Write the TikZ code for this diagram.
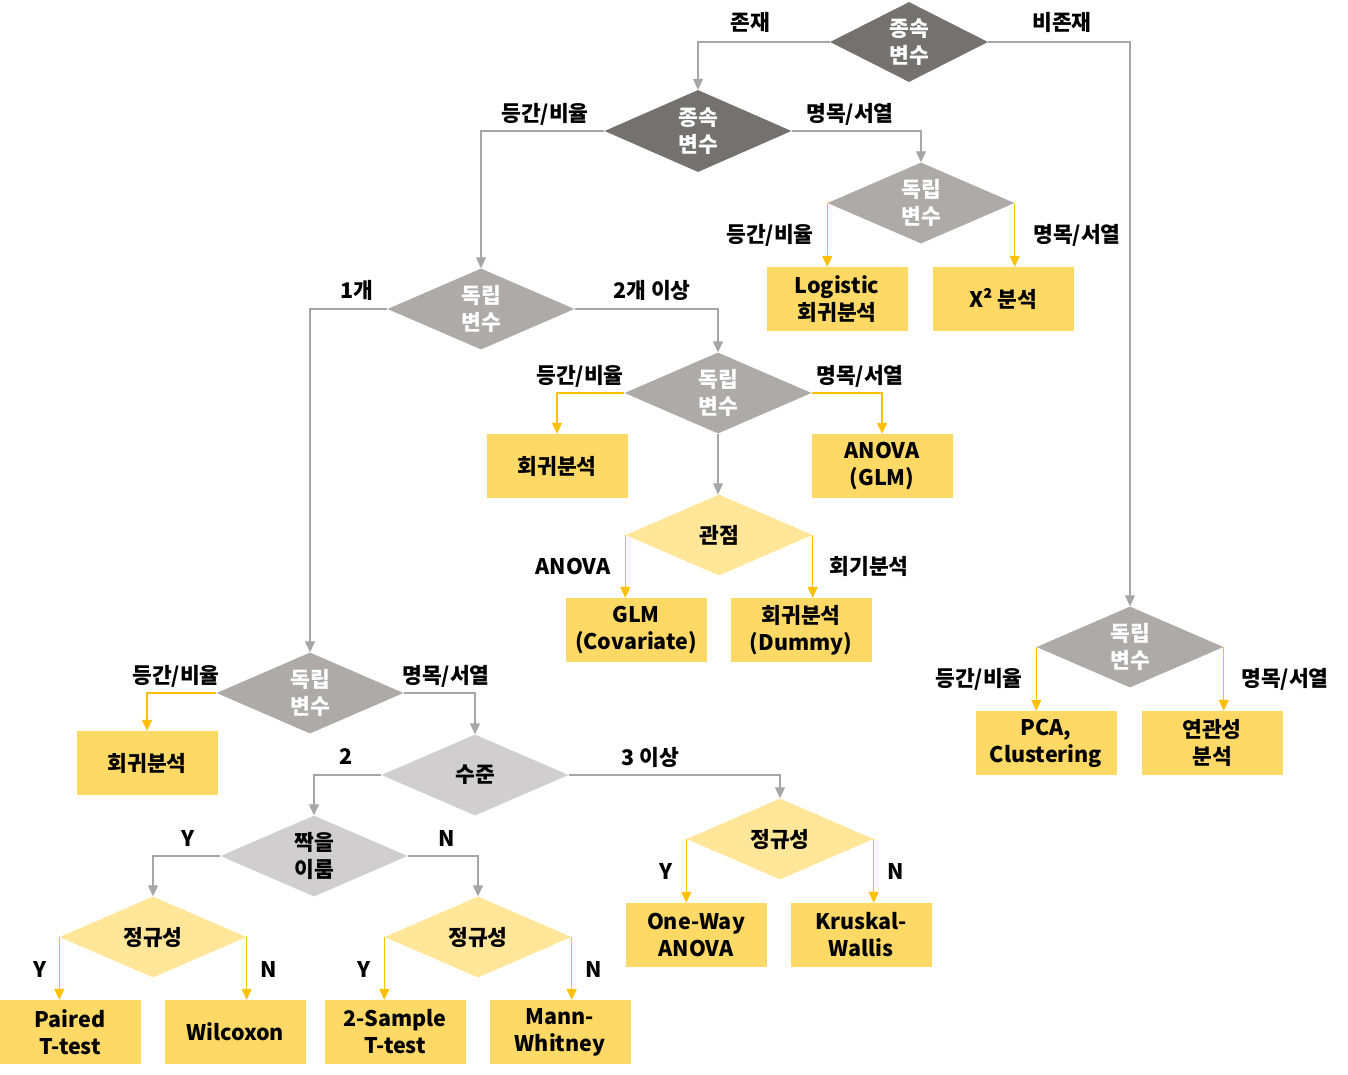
\documentclass[tikz,border=0pt]{standalone}
\usepackage{fontspec}
\setmainfont{Noto Sans CJK KR}
\usetikzlibrary{shapes.geometric,arrows.meta}

\definecolor{darkq}{HTML}{757171}
\definecolor{midq}{HTML}{AEAAAA}
\definecolor{lightq}{HTML}{D0CECE}
\definecolor{paleq}{HTML}{FFE699}
\definecolor{boxy}{HTML}{FFD966}
\definecolor{liney}{HTML}{FFC000}
\definecolor{lineg}{HTML}{A6A6A6}

\tikzset{
  every node/.style={font=\fontsize{21.5}{27}\selectfont\bfseries},
  ask/.style={diamond, aspect=2.3, inner sep=0pt, minimum width=187pt, minimum height=81pt, align=center},
  askdark/.style={ask, fill=darkq, text=white},
  askmid/.style={ask, fill=midq, text=white},
  asklight/.style={ask, fill=lightq},
  askpale/.style={ask, fill=paleq},
  result/.style={rectangle, fill=boxy, minimum width=141pt, minimum height=64pt, inner sep=0pt, align=center},
  gline/.style={draw=lineg, line width=1.2pt, -{Triangle[width=10pt,length=11pt]}},
  yline/.style={draw=liney, line width=1.4pt, -{Triangle[width=10pt,length=11pt]}},
}

\begin{document}
\begin{tikzpicture}[x=1pt, y=-1pt]
	\useasboundingbox (0,0) rectangle (1348,1074);

	% Rombos
	\node [askdark, minimum width=158pt, minimum height=80pt] (dep1) at (909,42) {종속\\변수};
	\node [askdark, minimum height=82pt] (dep2) at (698,131) {종속\\변수};
	\node [askmid] (indA) at (921,203) {독립\\변수};
	\node [askmid] (indB) at (481,309) {독립\\변수};
	\node [askmid] (indC) at (718,393) {독립\\변수};
	\node [askpale] (view) at (719,535) {관점};
	\node [askmid] (indD) at (1130,647) {독립\\변수};
	\node [askmid] (indE) at (310,693) {독립\\변수};
	\node [asklight] (level) at (475,775) {수준};
	\node [asklight] (pair) at (314,856) {짝을\\이룸};
	\node [askpale] (normA) at (780,839) {정규성};
	\node [askpale] (normB) at (153,937) {정규성};
	\node [askpale] (normC) at (478,937) {정규성};

	% Cajas
	\node [result] (logi) at (837,299) {Logistic\\회귀분석};
	\node [result] (chi) at (1003,299) {X² 분석};
	\node [result] (regA) at (557,466) {회귀분석};
	\node [result] (anova) at (882,466) {ANOVA\\(GLM)};
	\node [result] (glm) at (636,630) {GLM\\(Covariate)};
	\node [result] (regB) at (801,630) {회귀분석\\(Dummy)};
	\node [result] (pca) at (1046,743) {PCA,\\Clustering};
	\node [result] (assoc) at (1212,743) {연관성\\분석};
	\node [result] (regC) at (147,763) {회귀분석};
	\node [result] (oneway) at (696,935) {One-Way\\ANOVA};
	\node [result] (kruskal) at (861,935) {Kruskal-\\Wallis};
	\node [result] (paired) at (70,1032) {Paired\\T-test};
	\node [result] (wilc) at (235,1032) {Wilcoxon};
	\node [result] (twos) at (395,1032) {2-Sample\\T-test};
	\node [result] (mann) at (560,1032) {Mann-\\Whitney};

	% Flechas
	\draw [gline] (dep1.west) -| (dep2.north);
	\draw [gline] (dep1.east) -| (indD.north);
	\draw [gline] (dep2.west) -| (indB.north);
	\draw [gline] (dep2.east) -| (indA.north);
	\draw [yline] (indA.west) -- (indA.west |- logi.north);
	\draw [yline] (indA.east) -- (indA.east |- chi.north);
	\draw [gline] (indB.west) -| (indE.north);
	\draw [gline] (indB.east) -| (indC.north);
	\draw [yline] (indC.west) -| (regA.north);
	\draw [yline] (indC.east) -| (anova.north);
	\draw [gline] (indC.south) -- (indC.south |- view.north);
	\draw [yline] (view.west) -- (view.west |- glm.north);
	\draw [yline] (view.east) -- (view.east |- regB.north);
	\draw [yline] (indD.west) -- (indD.west |- pca.north);
	\draw [yline] (indD.east) -- (indD.east |- assoc.north);
	\draw [yline] (indE.west) -| (regC.north);
	\draw [gline] (indE.east) -| (level.north);
	\draw [gline] (level.west) -| (pair.north);
	\draw [gline] (level.east) -| (normA.north);
	\draw [gline] (pair.west) -| (normB.north);
	\draw [gline] (pair.east) -| (normC.north);
	\draw [yline] (normA.west) -- (normA.west |- oneway.north);
	\draw [yline] (normA.east) -- (normA.east |- kruskal.north);
	\draw [yline] (normB.west) -- (normB.west |- paired.north);
	\draw [yline] (normB.east) -- (normB.east |- wilc.north);
	\draw [yline] (normC.west) -- (normC.west |- twos.north);
	\draw [yline] (normC.east) -- (normC.east |- mann.north);

	% Etiquetas
	\node (t1) at (750,22) {존재};
	\node (t2) at (1062,22) {비존재};
	\node (t3) at (545,114) {등간/비율};
	\node (t4) at (850,114) {명목/서열};
	\node (t5) at (770,235) {등간/비율};
	\node (t6) at (1077,235) {명목/서열};
	\node (t7) at (357,290) {1개};
	\node (t8) at (652,290) {2개 이상};
	\node (t9) at (580,376) {등간/비율};
	\node (t10) at (860,376) {명목/서열};
	\node (t11) at (573,566) {ANOVA};
	\node (t12) at (869,566) {회기분석};
	\node (t13) at (979,679) {등간/비율};
	\node (t14) at (1285,679) {명목/서열};
	\node (t15) at (176,676) {등간/비율};
	\node (t16) at (446,676) {명목/서열};
	\node (t17) at (346,757) {2};
	\node (t18) at (650,757) {3 이상};
	\node (t19) at (188,838) {Y};
	\node (t20) at (447,838) {N};
	\node (t21) at (666,871) {Y};
	\node (t22) at (896,871) {N};
	\node (t23) at (40,969) {Y};
	\node (t24) at (269,969) {N};
	\node (t25) at (364,969) {Y};
	\node (t26) at (594,969) {N};
\end{tikzpicture}
\end{document}
